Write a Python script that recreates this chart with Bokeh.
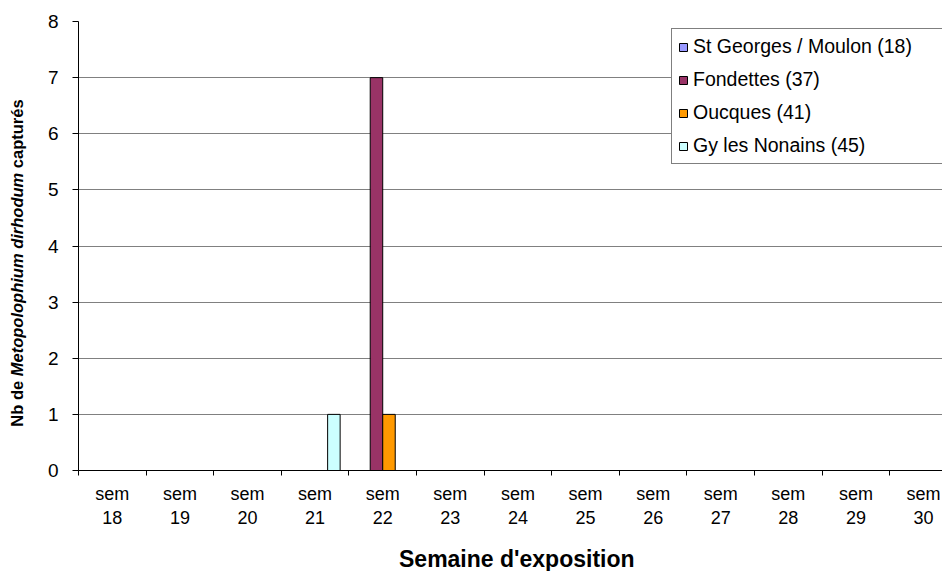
from bokeh.plotting import figure
from bokeh.models import (Range1d, FixedTicker, Legend, LegendItem, Div, ColumnDataSource)
from bokeh.layouts import row, column
from bokeh.embed import file_html
from bokeh.resources import INLINE

categories = ["sem 18", "sem 19", "sem 20", "sem 21", "sem 22", "sem 23", "sem 24",
              "sem 25", "sem 26", "sem 27", "sem 28", "sem 29", "sem 30"]
series_names = ["St Georges / Moulon (18)", "Fondettes (37)", "Oucques (41)", "Gy les Nonains (45)"]
st_georges = [0, 0, 0, 0, 0, 0, 0, 0, 0, 0, 0, 0, 0]
fondettes = [0, 0, 0, 0, 7, 0, 0, 0, 0, 0, 0, 0, 0]
oucques = [0, 0, 0, 0, 1, 0, 0, 0, 0, 0, 0, 0, 0]
gy = [0, 0, 0, 1, 0, 0, 0, 0, 0, 0, 0, 0, 0]
colors = ["#9999FF", "#993366", "#FF9900", "#CCFFFF"]
y_ticks = [0, 1, 2, 3, 4, 5, 6, 7, 8]

FONT = "Liberation Sans"
DIV_W = 30
W, H = 912, 546
TITLE_H = 25
BAR_W = 0.185

p = figure(width=W, height=H, output_backend="svg", toolbar_location=None,
           x_range=Range1d(0, 12.78), y_range=Range1d(0, 8),
           min_border_left=48, min_border_right=0, min_border_top=21, min_border_bottom=76)
p.outline_line_color = None
p.background_fill_color = "white"
p.border_fill_color = "white"

centers = [i + 0.5 for i in range(len(categories))]
renderers = []
for k, (name, vals) in enumerate(zip(series_names, [st_georges, fondettes, oucques, gy])):
    xs = [c + (k - 1.5) * BAR_W for c in centers]
    src = ColumnDataSource(dict(x=xs, top=vals))
    r = p.vbar(x="x", top="top", bottom=0, width=BAR_W, source=src,
               fill_color=colors[k], line_color="black", line_width=1)
    renderers.append((name, r))

# x axis
p.xaxis.ticker = FixedTicker(ticks=centers, minor_ticks=list(range(len(categories) + 1)))
p.xaxis.major_label_overrides = {c: lab.replace(" ", "\n") for c, lab in zip(centers, categories)}
p.xaxis.major_tick_out = 0
p.xaxis.major_tick_in = 0
p.xaxis.minor_tick_out = 5
p.xaxis.minor_tick_in = 0
p.xaxis.minor_tick_line_color = "black"
p.xaxis.axis_line_color = "black"
p.xaxis.major_label_text_font = FONT
p.xaxis.major_label_text_font_size = "18px"
p.xaxis.major_label_text_color = "black"
p.xaxis.major_label_standoff = 8

# y axis
p.yaxis.ticker = FixedTicker(ticks=y_ticks)
p.yaxis.minor_tick_line_color = None
p.yaxis.major_tick_out = 6
p.yaxis.major_tick_in = 0
p.yaxis.major_tick_line_color = "black"
p.yaxis.axis_line_color = "black"
p.yaxis.major_label_text_font = FONT
p.yaxis.major_label_text_font_size = "19px"
p.yaxis.major_label_text_color = "black"
p.yaxis.major_label_standoff = 14

p.xgrid.grid_line_color = None
p.ygrid.ticker = FixedTicker(ticks=y_ticks)
p.ygrid.grid_line_color = "#808080"
p.ygrid.grid_line_width = 1

legend = Legend(items=[LegendItem(label=n, renderers=[r]) for n, r in renderers],
                location=(593, 306), orientation="vertical")
legend.label_text_font = FONT
legend.label_text_font_size = "19.5px"
legend.label_text_color = "black"
legend.glyph_width = 10
legend.glyph_height = 10
legend.label_height = 20
legend.label_width = 245
legend.label_standoff = 5
legend.spacing = 10
legend.padding = 6
legend.margin = 0
legend.border_line_color = "black"
legend.border_line_width = 1
legend.background_fill_color = "white"
legend.background_fill_alpha = 1
p.add_layout(legend)

ylabel_html = ('<div style="width:526px;height:34px;line-height:34px;text-align:center;'
               'white-space:nowrap;transform-origin:0 0;transform:translate(0,526px) rotate(-90deg);'
               "font-family:'Liberation Sans',Arial,sans-serif;font-weight:bold;font-size:16.5px;color:black;\">"
               'Nb de <i>Metopolophium dirhodum</i> capturés</div>')
ydiv = Div(text=ylabel_html, width=DIV_W, height=H, margin=0)

xlabel_html = ('<div style="padding-left:399px;height:25px;line-height:27px;white-space:nowrap;'
               "font-family:'Liberation Sans',Arial,sans-serif;font-weight:bold;font-size:23px;color:black;\">"
               "Semaine d'exposition</div>")
xdiv = Div(text=xlabel_html, width=DIV_W + W, height=TITLE_H, margin=0)

layout = column(row(ydiv, p, spacing=0), xdiv, spacing=0)
open("out.html", "w").write(file_html(layout, INLINE))
